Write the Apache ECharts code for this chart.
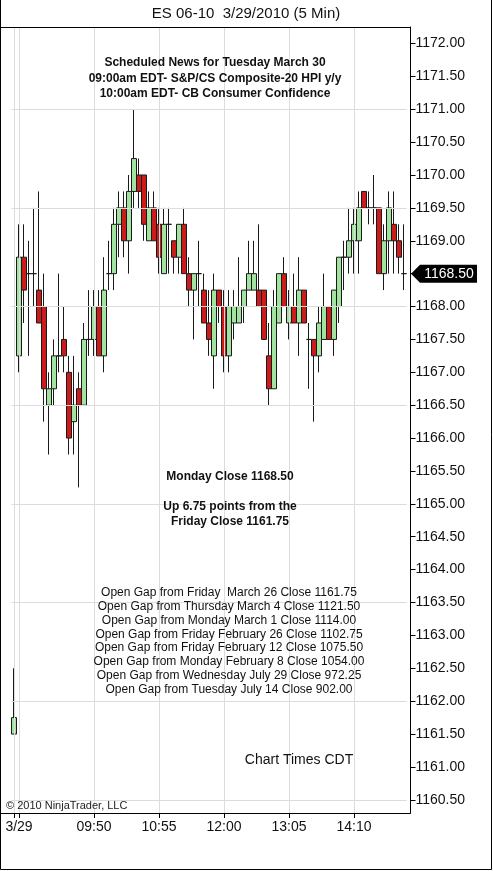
<!DOCTYPE html>
<html>
<head>
<meta charset="utf-8">
<script src="https://cdn.jsdelivr.net/npm/echarts@6.0.0/dist/echarts.min.js"></script>
<style>
  html, body { margin: 0; padding: 0; background: #fff; }
  #chart { width: 493px; height: 871px; }
</style>
</head>
<body>
<div id="chart"></div>
<script>
// ES 06-10, 5 min bars. bar 0 = last bar of friday, then monday 08:35 ... 15:00
const sessionDate = '3/29'
const prevBarTime = '15:15'
const firstBarTime = [8, 35]
const sessionBars = 78

const opens = [
  1161.5, 1167.25, 1168.75, 1168.5, 1168.5, 1168.25, 1168.0, 1166.5, 1166.75, 1167.25,
  1167.5, 1167.0, 1166.25, 1166.75, 1166.5, 1167.5, 1167.5, 1168.0, 1167.25, 1168.5,
  1168.5, 1169.25, 1169.5, 1169.0, 1169.75, 1170.0, 1170.0, 1169.0, 1169.5, 1169.25,
  1168.5, 1169.25, 1169.0, 1168.75, 1169.25, 1168.5, 1168.25, 1168.5, 1168.25, 1167.75,
  1167.25, 1168.25, 1168.0, 1167.25, 1167.75, 1167.75, 1168.0, 1168.25, 1168.25, 1168.25,
  1168.25, 1167.25, 1166.75, 1167.75, 1168.5, 1167.75, 1168.0, 1167.75, 1168.25, 1167.5,
  1167.5, 1167.25, 1167.5, 1168.0, 1167.5, 1168.0, 1168.75, 1168.75, 1169.0, 1169.0,
  1169.75, 1169.5, 1169.5, 1169.5, 1168.5, 1169.0, 1169.25, 1169.0, 1168.5
]
const closes = [
  1161.75, 1168.75, 1168.25, 1168.5, 1168.5, 1167.75, 1166.75, 1166.75, 1167.25, 1167.25,
  1167.25, 1166.0, 1166.5, 1166.5, 1167.5, 1167.5, 1168.0, 1167.25, 1168.25, 1168.5,
  1169.25, 1169.5, 1169.0, 1169.75, 1170.25, 1169.75, 1169.25, 1169.5, 1169.0, 1168.75,
  1169.25, 1169.25, 1168.75, 1169.25, 1168.5, 1168.25, 1168.5, 1168.5, 1167.75, 1167.5,
  1168.25, 1168.0, 1167.25, 1168.0, 1168.0, 1168.0, 1168.25, 1168.5, 1168.5, 1168.0,
  1167.5, 1166.75, 1168.0, 1168.5, 1168.0, 1168.0, 1167.75, 1168.25, 1167.75, 1167.5,
  1167.25, 1167.75, 1168.0, 1167.5, 1168.25, 1168.75, 1168.75, 1169.0, 1169.25, 1169.5,
  1169.5, 1169.5, 1169.5, 1168.5, 1169.0, 1169.5, 1169.0, 1168.75, 1168.5
]
const lows = [
  1161.5, 1167.0, 1167.75, 1167.25, 1168.0, 1167.75, 1166.25, 1165.75, 1166.5, 1167.0,
  1167.0, 1165.75, 1165.75, 1165.25, 1166.5, 1167.25, 1167.25, 1167.25, 1167.0, 1168.25,
  1168.25, 1168.75, 1168.75, 1168.5, 1169.5, 1169.5, 1169.0, 1169.0, 1169.0, 1168.5,
  1168.5, 1168.5, 1168.5, 1168.5, 1168.5, 1168.0, 1167.5, 1168.0, 1167.75, 1167.25,
  1166.75, 1167.75, 1167.0, 1167.0, 1167.5, 1167.75, 1167.75, 1168.25, 1168.25, 1168.0,
  1167.5, 1166.5, 1166.75, 1167.75, 1168.0, 1167.5, 1167.75, 1167.25, 1167.75, 1166.75,
  1166.25, 1167.0, 1167.5, 1167.5, 1167.25, 1167.75, 1168.25, 1168.5, 1168.5, 1168.5,
  1169.5, 1169.25, 1169.25, 1168.5, 1168.25, 1168.5, 1168.5, 1168.5, 1168.25
]
const highs = [
  1162.5, 1169.25, 1169.25, 1169.0, 1169.5, 1169.75, 1168.5, 1167.0, 1167.5, 1168.5,
  1168.0, 1167.25, 1167.25, 1167.0, 1167.75, 1168.25, 1168.25, 1168.25, 1168.75, 1169.0,
  1169.5, 1169.75, 1169.75, 1170.0, 1171.0, 1170.25, 1170.0, 1169.75, 1169.75, 1169.5,
  1169.5, 1169.5, 1169.0, 1169.25, 1169.5, 1168.75, 1168.5, 1169.0, 1168.5, 1168.25,
  1168.5, 1168.25, 1168.25, 1168.25, 1168.25, 1168.75, 1168.25, 1169.0, 1169.0, 1169.25,
  1168.25, 1167.75, 1168.25, 1168.5, 1168.75, 1168.25, 1168.5, 1168.75, 1168.25, 1167.75,
  1167.5, 1168.0, 1168.5, 1168.0, 1168.25, 1168.75, 1169.0, 1169.5, 1169.5, 1169.75,
  1169.75, 1169.75, 1170.0, 1169.5, 1169.25, 1169.75, 1169.75, 1169.25, 1169.25
]

// axis ticks / labels
const priceTicks = []
for (let p = 1160.5; p <= 1172; p += 0.5) priceTicks.push(p)
const gridLevels = [1160.5, 1162, 1163.5, 1165, 1166.5, 1168, 1169.5, 1171]
const xLabelIdx = [1, 16, 29, 42, 55, 68]
const xTickIdx = [0, 1, 16, 29, 42, 55, 68]
const gridCols = [0, 1, 16, 29, 42, 55, 68]

const pad = n => (n < 10 ? '0' : '') + n
const categories = [prevBarTime]
for (let i = 0; i < sessionBars; i++) {
  const m = firstBarTime[0] * 60 + firstBarTime[1] + i * 5
  categories.push(pad(Math.floor(m / 60)) + ':' + pad(m % 60))
}

const newsLines = [
  'Scheduled News for Tuesday March 30',
  '09:00am EDT- S&P/CS Composite-20 HPI y/y',
  '10:00am EDT- CB Consumer Confidence'
]
const gapLines = [
  'Open Gap from Friday  March 26 Close 1161.75',
  'Open Gap from Thursday March 4 Close 1121.50',
  'Open Gap from Monday March 1 Close 1114.00',
  'Open Gap from Friday February 26 Close 1102.75',
  'Open Gap from Friday February 12 Close 1075.50',
  'Open Gap from Monday February 8 Close 1054.00',
  'Open Gap from Wednesday July 29 Close 972.25',
  'Open Gap from Tuesday July 14 Close 902.00'
]

const FONT = '"Liberation Sans", Arial, sans-serif'
const lastIdx = closes.length - 1
const lastClose = closes[lastIdx]

const txt = (x, y, text, font, lineHeight) => ({
  type: 'text',
  x: x,
  y: y,
  z: 20,
  style: {
    text: text,
    font: font,
    fill: '#111',
    lineHeight: lineHeight,
    align: 'center',
    verticalAlign: 'top',
    textAlign: 'center',
    textVerticalAlign: 'top'
  }
})

const chart = echarts.init(document.getElementById('chart'), null, { renderer: 'canvas' })
const option = {
  animation: false,
  backgroundColor: '#fff',
  grid: {
    left: 11.5,
    right: 86.5,
    top: 27,
    bottom: 58
  },
  xAxis: {
    type: 'category',
    data: categories,
    boundaryGap: true,
    axisLine: { show: false },
    axisTick: {
      show: true,
      alignWithLabel: true,
      length: 5,
      interval: i => xTickIdx.includes(i),
      lineStyle: { color: '#000' }
    },
    axisLabel: {
      interval: i => xLabelIdx.includes(i),
      formatter: (val, i) => (i === 1 ? sessionDate : val),
      fontFamily: FONT,
      fontSize: 14,
      color: '#111',
      margin: 7
    },
    splitLine: { show: false }
  },
  yAxis: {
    type: 'value',
    position: 'right',
    offset: 4,
    min: 1160.3,
    max: 1172.25,
    splitNumber: 24,
    scale: true,
    axisLine: { show: true, lineStyle: { color: '#000' } },
    axisTick: {
      show: true,
      length: 5,
      customValues: priceTicks,
      lineStyle: { color: '#000' }
    },
    axisLabel: {
      customValues: priceTicks,
      formatter: v => (Math.abs(v * 2 - Math.round(v * 2)) < 1e-6 ? v.toFixed(2) : ''),
      fontFamily: FONT,
      fontSize: 14,
      color: '#111',
      margin: 5
    },
    splitLine: { show: false }
  },
  series: [
    {
      // grid lines only
      type: 'line',
      data: [],
      z: 1,
      silent: true,
      markLine: {
        silent: true,
        symbol: 'none',
        label: { show: false },
        lineStyle: { color: '#dcdcdc', width: 1, type: 'solid' },
        data: [
          ...gridLevels.map(v => ({ yAxis: v })),
          ...gridCols.map(i => ({ xAxis: i }))
        ]
      }
    },
    {
      type: 'candlestick',
      z: 3,
      barWidth: 5,
      data: opens.map((o, i) => [o, closes[i], lows[i], highs[i]]),
      itemStyle: {
        color: '#a3e3a0',
        color0: '#cc1b1b',
        borderColor: '#1a1a1a',
        borderColor0: '#1a1a1a',
        borderColorDoji: '#1a1a1a',
        borderWidth: 1
      },
      markPoint: {
        silent: true,
        symbol: 'path://M0,9 L9,0 L66,0 L66,18 L9,18 Z',
        symbolSize: [66, 18],
        symbolKeepAspect: false,
        symbolOffset: [40, 0],
        itemStyle: { color: '#000' },
        label: {
          show: true,
          position: 'inside',
          offset: [5, 0],
          color: '#fff',
          fontFamily: FONT,
          fontSize: 14,
          formatter: () => lastClose.toFixed(2)
        },
        data: [{ coord: [lastIdx, lastClose], value: lastClose }]
      }
    }
  ],
  graphic: [
    {
      type: 'rect',
      z: 10,
      shape: { x: 0.5, y: 27.5, width: 410, height: 786 },
      style: { fill: 'none', stroke: '#000', lineWidth: 1 }
    },
    {
      type: 'rect',
      z: 10,
      shape: { x: 0.5, y: -2, width: 491, height: 871.5 },
      style: { fill: 'none', stroke: '#000', lineWidth: 1 }
    },
    txt(246, 5, 'ES 06-10  3/29/2010 (5 Min)', '15px ' + FONT, 18),
    txt(215, 55, newsLines.join('\n'), 'bold 12px ' + FONT, 15.5),
    txt(230, 469, 'Monday Close 1168.50', 'bold 12px ' + FONT, 15),
    txt(230, 499, 'Up 6.75 points from the\nFriday Close 1161.75', 'bold 12px ' + FONT, 15),
    txt(229, 586, gapLines.join('\n'), '12px ' + FONT, 13.8),
    txt(299, 752, 'Chart Times CDT', '14px ' + FONT, 17),
    {
      type: 'text',
      x: 6,
      y: 800,
      z: 20,
      style: {
        text: '\u00a9 2010 NinjaTrader, LLC',
        font: '11px ' + FONT,
        fill: '#222',
        align: 'left',
        verticalAlign: 'top',
        textAlign: 'left',
        textVerticalAlign: 'top'
      }
    }
  ]
}
chart.setOption(option)
</script>
</body>
</html>
